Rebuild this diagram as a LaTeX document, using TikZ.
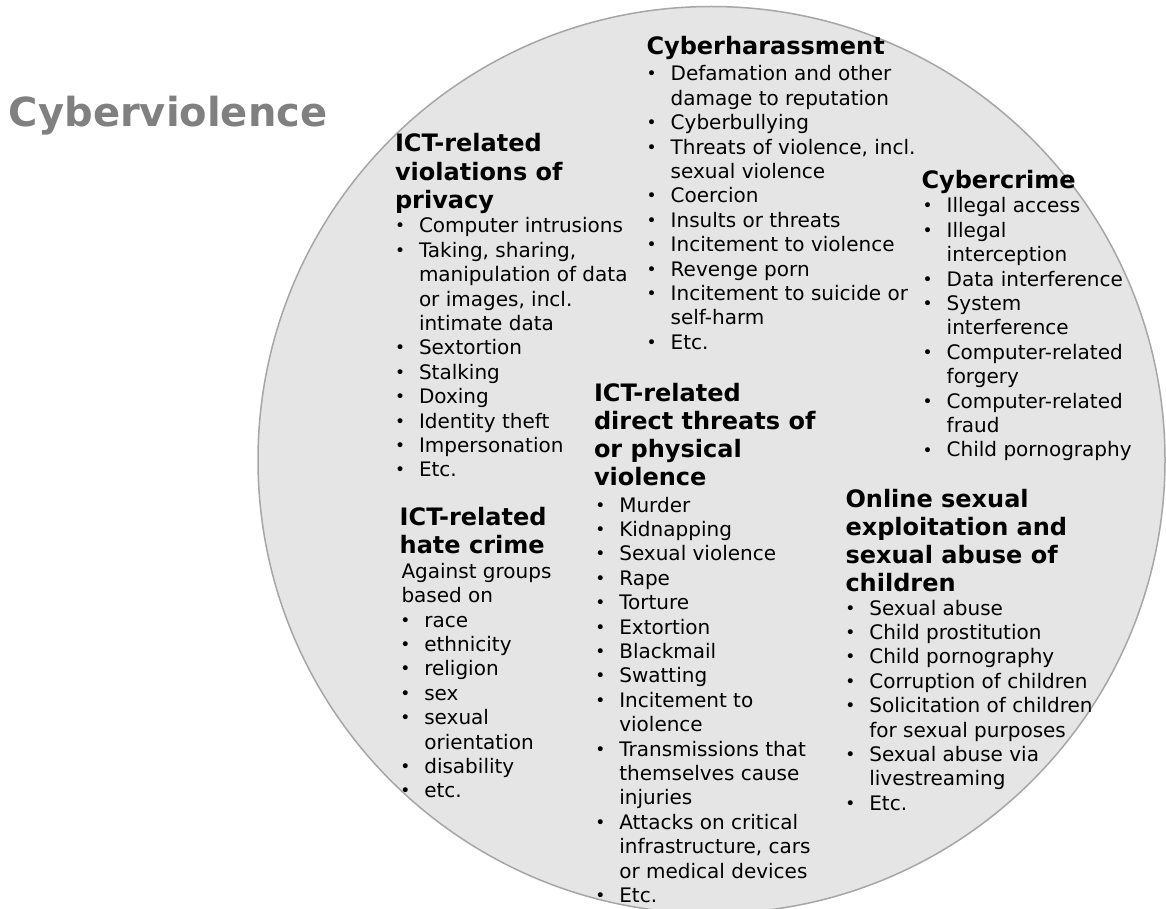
\documentclass[tikz,border=0pt]{standalone}
\usepackage{fontspec}
\setmainfont{DejaVu Sans}
\definecolor{circfill}{HTML}{E5E5E5}
\definecolor{circline}{HTML}{A6A6A6}
\definecolor{titlegray}{HTML}{808080}
\newcommand\bodyfont{\fontsize{20}{24.4}\selectfont}
\newcommand\headfont{\fontsize{24}{28.2}\selectfont\bfseries}
\newcommand\bitem[1]{\hbox{\llap{\makebox[24pt][l]{\raisebox{1.0pt}{\fontsize{17}{17}\selectfont •}}}#1}}
\newcommand\bcont[1]{\hbox{#1}}
\newcommand\mystack[2]{\vtop{#1\lineskiplimit=-100pt\relax #2}}
\tikzset{
  blk/.style={anchor=base west, inner sep=0pt, outer sep=0pt, text=black},
}
\begin{document}
\begin{tikzpicture}[x=1pt,y=-1pt]
\useasboundingbox (0,0) rectangle (1166,909);
\clip (0,0) rectangle (1166,909);
\draw[draw=circline, fill=circfill, line width=1.5pt] (711.5,460) circle [radius=453.5];

\node[blk, text=titlegray] (title) at (9,127) {\fontsize{40}{48}\selectfont\bfseries Cyberviolence};

% Cyberharassment
\node[blk] (harH) at (646.5,55) {\mystack{\headfont}{\hbox{Cyberharassment}}};
\node[blk] (harL) at (670.7,81) {\mystack{\bodyfont}{%
\bitem{Defamation and other}\bcont{damage to reputation}%
\bitem{Cyberbullying}%
\bitem{Threats of violence, incl.}\bcont{sexual violence}%
\bitem{Coercion}%
\bitem{Insults or threats}%
\bitem{Incitement to violence}%
\bitem{Revenge porn}%
\bitem{Incitement to suicide or}\bcont{self-harm}%
\bitem{Etc.}}};

% Privacy
\node[blk] (privH) at (395,152) {\mystack{\headfont}{\hbox{ICT-related}\hbox{violations of}\hbox{privacy}}};
\node[blk] (privL) at (419,233) {\mystack{\bodyfont}{%
\bitem{Computer intrusions}%
\bitem{Taking, sharing,}\bcont{manipulation of data}\bcont{or images, incl.}\bcont{intimate data}%
\bitem{Sextortion}%
\bitem{Stalking}%
\bitem{Doxing}%
\bitem{Identity theft}%
\bitem{Impersonation}%
\bitem{Etc.}}};

% Cybercrime
\node[blk] (crimeH) at (921.5,189) {\mystack{\headfont}{\hbox{Cybercrime}}};
\node[blk] (crimeL) at (946.7,213) {\mystack{\bodyfont}{%
\bitem{Illegal access}%
\bitem{Illegal}\bcont{interception}%
\bitem{Data interference}%
\bitem{System}\bcont{interference}%
\bitem{Computer-related}\bcont{forgery}%
\bitem{Computer-related}\bcont{fraud}%
\bitem{Child pornography}}};

% Direct threats
\node[blk] (dirH) at (594,401) {\mystack{\headfont}{\hbox{ICT-related}\hbox{direct threats of}\hbox{or physical}\hbox{violence}}};
\node[blk] (dirL) at (619.3,512) {\mystack{\bodyfont}{%
\bitem{Murder}%
\bitem{Kidnapping}%
\bitem{Sexual violence}%
\bitem{Rape}%
\bitem{Torture}%
\bitem{Extortion}%
\bitem{Blackmail}%
\bitem{Swatting}%
\bitem{Incitement to}\bcont{violence}%
\bitem{Transmissions that}\bcont{themselves cause}\bcont{injuries}%
\bitem{Attacks on critical}\bcont{infrastructure, cars}\bcont{or medical devices}%
\bitem{Etc.}}};

% Hate crime
\node[blk] (hateH) at (399.7,525) {\mystack{\headfont}{\hbox{ICT-related}\hbox{hate crime}}};
\node[blk] (hateI) at (401.5,578) {\mystack{\bodyfont}{\hbox{Against groups}\hbox{based on}}};
\node[blk] (hateL) at (424.3,627) {\mystack{\bodyfont}{%
\bitem{race}%
\bitem{ethnicity}%
\bitem{religion}%
\bitem{sex}%
\bitem{sexual}\bcont{orientation}%
\bitem{disability}%
\bitem{etc.}}};

% Online sexual exploitation
\node[blk] (onH) at (845.5,507) {\mystack{\headfont}{\hbox{Online sexual}\hbox{exploitation and}\hbox{sexual abuse of}\hbox{children}}};
\node[blk] (onL) at (869.3,615) {\mystack{\bodyfont}{%
\bitem{Sexual abuse}%
\bitem{Child prostitution}%
\bitem{Child pornography}%
\bitem{Corruption of children}%
\bitem{Solicitation of children}\bcont{for sexual purposes}%
\bitem{Sexual abuse via}\bcont{livestreaming}%
\bitem{Etc.}}};
\end{tikzpicture}
\end{document}
